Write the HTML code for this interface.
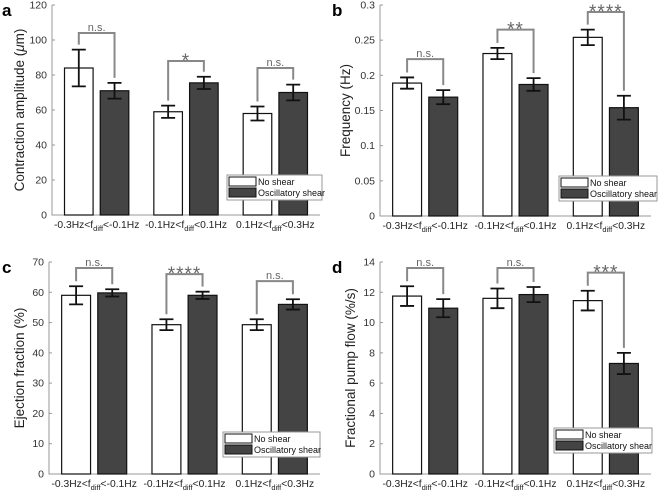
<!DOCTYPE html>
<html><head><meta charset="utf-8"><style>
body{margin:0;background:#fff;}
svg{display:block;font-family:"Liberation Sans",sans-serif;}
</style></head><body>
<svg id="fig" width="658" height="492"></svg>
<script>
// Panel a data
const catA = ["-0.3Hz&lt;f|diff|&lt;-0.1Hz","-0.1Hz&lt;f|diff|&lt;0.1Hz","0.1Hz&lt;f|diff|&lt;0.3Hz"];
const aNo = [84, 59, 58];
const aNoErr = [10.5, 3.5, 4];
const aOsc = [71, 75.5, 70];
const aOscErr = [4.5, 3.5, 4.5];
const aSig = ["n.s.", "*", "n.s."];
const aBr = [104, 88, 84];
const aTicks = [0,20,40,60,80,100,120];
// Panel b data
const bNo = [0.189, 0.231, 0.254];
const bNoErr = [0.008, 0.008, 0.011];
const bOsc = [0.169, 0.187, 0.154];
const bOscErr = [0.010, 0.009, 0.017];
const bSig = ["n.s.", "**", "****"];
const bBr = [0.223, 0.265, 0.29];
const bTicks = [0,0.05,0.1,0.15,0.2,0.25,0.3];
// Panel c data
const cNo = [59, 49.3, 49.3];
const cNoErr = [3, 1.8, 1.8];
const cOsc = [59.8, 59, 56];
const cOscErr = [1.2, 1.2, 1.7];
const cSig = ["n.s.", "****", "n.s."];
const cBr = [68, 66, 63.7];
const cTicks = [0,10,20,30,40,50,60,70];
// Panel d data
const dNo = [11.75, 11.6, 11.45];
const dNoErr = [0.65, 0.65, 0.65];
const dOsc = [10.95, 11.85, 7.3];
const dOscErr = [0.6, 0.5, 0.7];
const dSig = ["n.s.", "n.s.", "***"];
const dBr = [13.6, 13.6, 13.3];
const dTicks = [0,2,4,6,8,10,12,14];

const NS = "http://www.w3.org/2000/svg";
const svg = document.getElementById("fig");
function mk(tag, attrs, parent){
  const e = document.createElementNS(NS, tag);
  for (const k in attrs) e.setAttribute(k, attrs[k]);
  (parent||svg).appendChild(e);
  return e;
}

function panel(o){
  const g = mk("g", {});
  
  
  const ymax = o.ticks[o.ticks.length-1];
  const ys = v => o.bottom - (v/ymax)*(o.bottom-o.top);
  const xs = v => o.left + (v-0.5)/3*(o.right-o.left);
  const L = mk("text", {x:o.letter=="a"||o.letter=="c"?2:332, y:o.top+11, "font-size":17, "font-weight":"bold", fill:"#000"}, g);
  L.textContent = o.letter;
  
  
  const ax = mk("path", {d:`M${o.left},${o.top}V${o.bottom}H${o.right}`, stroke:"#999", "stroke-width":1, fill:"none"}, g);
  
  
  o.ticks.forEach(t=>{
    const y = ys(t);
    mk("line",{x1:o.left,x2:o.left+3,y1:y,y2:y,stroke:"#999"},g);
    const tt = mk("text",{x:o.left-5,y:y+3.5,"font-size":10.5,"text-anchor":"end",fill:"#333"},g);
    tt.textContent = String(t);
    
    
  });
  const yt = mk("text",{transform:`translate(${o.ytx},${(o.top+o.bottom)/2}) rotate(-90)`,"font-size":13.5,"text-anchor":"middle",fill:"#222"},g);
  yt.innerHTML = o.ytitle;
  
  
  const bw = 0.32*(o.right-o.left)/3;
  catA.forEach((c,i)=>{
    const xc = xs(i+1);
    const p = c.split("|");
    const lt = mk("text",{x:xc,y:o.bottom+13,"font-size":10.3,"text-anchor":"middle",fill:"#222"},g);
    lt.innerHTML = `${p[0]}<tspan font-size="7.5" dy="3">${p[1]}</tspan><tspan dy="-3">${p[2]}</tspan>`;
    
    
    const series = [[o.no,o.noErr,"#fff",-1],[o.osc,o.oscErr,"#444",1]];
    const tops = [];
    series.forEach(([vals,errs,fill,s])=>{
      const bx = xs(i+1+s*0.2);
      const y0 = ys(vals[i]);
      const r = mk("rect",{x:bx-bw/2,y:y0,width:bw,height:o.bottom-y0,fill:fill,stroke:"#111","stroke-width":1.2},g);
      
      
      const yh = ys(vals[i]+errs[i]), yl = ys(vals[i]-errs[i]);
      const eb = mk("path",{d:`M${bx},${yh}V${yl}M${bx-7},${yh}H${bx+7}M${bx-7},${yl}H${bx+7}`,stroke:"#111","stroke-width":1.8,fill:"none"},g);
      
      
      tops.push([bx, yh]);
    });
    const yb = ys(o.br[i]);
    const br = mk("path",{d:`M${tops[0][0]},${tops[0][1]-5}V${yb}H${tops[1][0]}V${tops[1][1]-5}`,stroke:"#888","stroke-width":2,fill:"none"},g);
    
    
    const isNs = o.sig[i]=="n.s.";
    const st = mk("text",{x:(tops[0][0]+tops[1][0])/2,y:isNs?yb-2:yb+6,"font-size":isNs?11:19,"text-anchor":"middle",fill:"#666","letter-spacing":isNs?0:1},g);
    st.textContent = o.sig[i];
    
    
  });
  const lg = mk("g",{},g);
  
  
  const [lx,ly,lw] = o.leg;
  mk("rect",{x:lx,y:ly,width:lw,height:25,fill:"#fff",stroke:"#999"},lg);
  mk("rect",{x:lx+2,y:ly+2,width:27,height:9,fill:"#fff",stroke:"#111"},lg);
  mk("rect",{x:lx+2,y:ly+13,width:27,height:9,fill:"#444",stroke:"#111"},lg);
  const t1 = mk("text",{x:lx+31,y:ly+10,"font-size":9,fill:"#111"},lg); t1.textContent="No shear";
  
  
  const t2 = mk("text",{x:lx+31,y:ly+21,"font-size":9,fill:"#111"},lg); t2.textContent="Oscillatory shear";
  
  
}

panel({letter:"a",left:52,right:320,top:5,bottom:215,ticks:aTicks,no:aNo,noErr:aNoErr,osc:aOsc,oscErr:aOscErr,sig:aSig,br:aBr,ytitle:'Contraction amplitude (<tspan font-style="italic">μ</tspan>m)',ytx:24,leg:[227,175,95]});
panel({letter:"b",left:380,right:651,top:5,bottom:216,ticks:bTicks,no:bNo,noErr:bNoErr,osc:bOsc,oscErr:bOscErr,sig:bSig,br:bBr,ytitle:'Frequency (Hz)',ytx:350,leg:[559,176,98]});
panel({letter:"c",left:49,right:320,top:262,bottom:474,ticks:cTicks,no:cNo,noErr:cNoErr,osc:cOsc,oscErr:cOscErr,sig:cSig,br:cBr,ytitle:'Ejection fraction (%)',ytx:24,leg:[223,432,97]});
panel({letter:"d",left:380,right:651,top:262,bottom:474,ticks:dTicks,no:dNo,noErr:dNoErr,osc:dOsc,oscErr:dOscErr,sig:dSig,br:dBr,ytitle:'Fractional pump flow (%/s)',ytx:355,leg:[554,428,98]});
</script>
</body></html>
